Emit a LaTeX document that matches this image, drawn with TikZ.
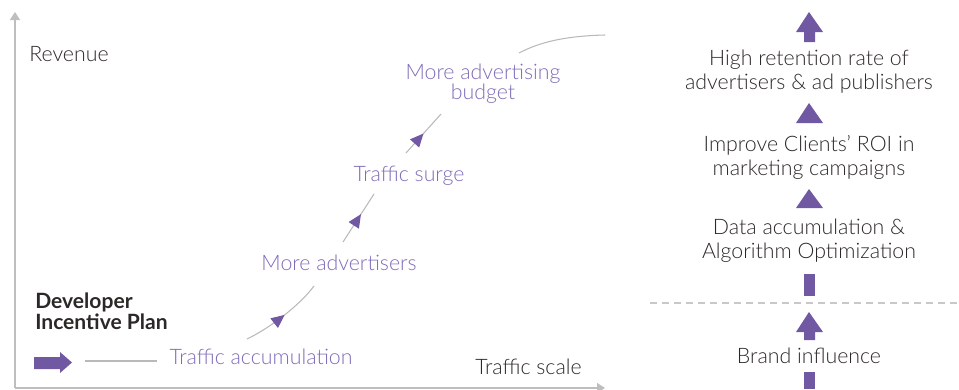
\documentclass[tikz,border=0pt]{standalone}
\usepackage{fontspec}
\setmainfont{Lato Light}[BoldFont={Lato Bold}]
\usetikzlibrary{arrows.meta,decorations.markings}
\definecolor{axisgray}{RGB}{190,190,190}
\definecolor{linegray}{RGB}{185,185,185}
\definecolor{dashgray}{RGB}{200,200,200}
\definecolor{arrowpurple}{RGB}{112,88,163}
\definecolor{textpurple}{RGB}{128,108,184}
\definecolor{darktext}{RGB}{45,40,40}
\tikzset{
  dark/.style={text=darktext, inner sep=0pt},
  ptext/.style={text=textpurple, inner sep=0pt},
  rtext/.style={text=darktext, inner sep=0pt, align=center},
  axisline/.style={draw=axisgray, line width=1.1pt, -{Triangle[length=6pt,width=7.5pt]}},
  flowline/.style={draw=linegray, line width=0.8pt},
  midtip/.style={postaction={decorate}, decoration={markings,
     mark=at position #1 with {\arrow{Triangle[length=10pt,width=9pt,color=arrowpurple]}}}},
  blockfill/.style={fill=arrowpurple, draw=none}
}
\begin{document}
\begin{tikzpicture}[x=0.75pt,y=-0.75pt, font=\fontsize{16}{18}\selectfont]
\useasboundingbox (0,0) rectangle (959,389);
% axes
\coordinate (o) at (15,388);
\coordinate (ytop) at (15,12);
\coordinate (xend) at (605,388);
\draw[axisline] (o) -- (ytop);
\draw[axisline] (o) -- (xend);
\node[dark, anchor=west] (rev) at (29,54) {Revenue};
\node[dark, anchor=west] (tsc) at (475,367) {Traffic scale};
\node[dark, anchor=west, align=left, font=\fontsize{15.8}{16}\selectfont\bfseries] (dip) at (35,311) {Developer\\Incentive Plan};
% left block arrow
\fill[blockfill] (34,357) -- (60,357) -- (60,352) -- (72,362.5) -- (60,373) -- (60,369) -- (34,369) -- cycle;
\coordinate (la) at (85,361);
% purple labels
\node[ptext] (ta) at (261,357) {Traffic accumulation};
\node[ptext] (ma) at (339,263) {More advertisers};
\node[ptext] (tsg) at (409,176) {Traffic surge};
\node[ptext, align=center, font=\fontsize{16}{15}\selectfont] (mab) at (483,84) {More advertising\\budget};
% connectors
\coordinate (c0e) at (157,361);
\coordinate (c1s) at (247,339);
\coordinate (c1e) at (314,286);
\coordinate (c2s) at (343,242);
\coordinate (c2e) at (374,194);
\coordinate (c3s) at (406,153);
\coordinate (c3e) at (441,114);
\coordinate (c4s) at (519,53);
\coordinate (c4e) at (605,35);
\draw[flowline] (la) -- (c0e);
\draw[flowline, midtip=0.52] (c1s) .. controls (270,328) and (300,305) .. (c1e);
\draw[flowline, midtip=0.58] (c2s) -- (c2e);
\draw[flowline, midtip=0.5] (c3s) -- (c3e);
\draw[flowline] (c4s) .. controls (540,42) and (565,36) .. (c4e);
% right column
\node[rtext] (hr) at (809,72) {High retention rate of\\advertisers \& ad publishers};
\node[rtext] (roi) at (809,157) {Improve Clients’ ROI in\\marketing campaigns};
\node[rtext] (data) at (809,241) {Data accumulation \&\\Algorithm Optimization};
\node[rtext] (brand) at (809,356) {Brand influence};
\fill[blockfill] (809,12) -- (823,32) -- (815,32) -- (815,42) -- (804,42) -- (804,32) -- (796,32) -- cycle;
\fill[blockfill] (809,103) -- (823,123) -- (796,123) -- cycle;
\fill[blockfill] (809,189) -- (823,208) -- (796,208) -- cycle;
\fill[blockfill] (804,274) rectangle (815,296);
\fill[blockfill] (809,312) -- (823,332) -- (815,332) -- (815,340) -- (804,340) -- (804,332) -- (796,332) -- cycle;
\fill[blockfill] (804,372) rectangle (815,389);
\draw[dashgray, line width=0.8pt, dash pattern=on 5pt off 4pt] (650,303) -- (959,303);
\end{tikzpicture}
\end{document}
